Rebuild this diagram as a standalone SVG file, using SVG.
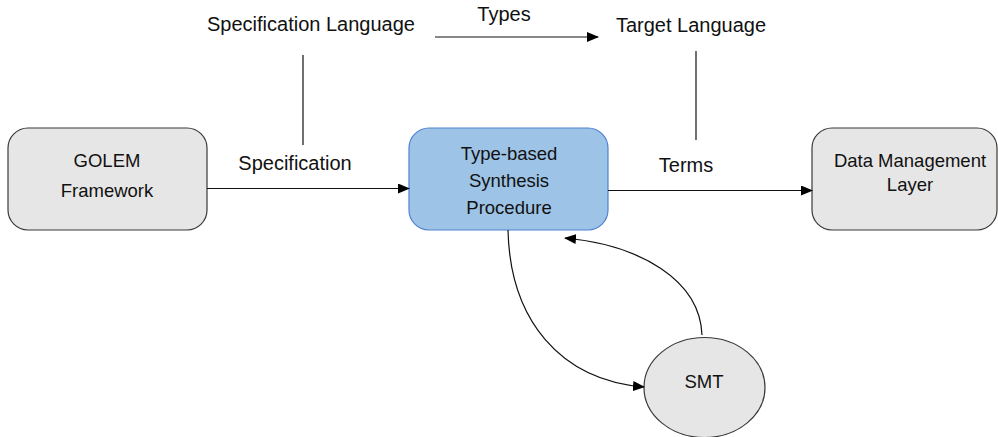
<svg xmlns="http://www.w3.org/2000/svg" width="998" height="437" viewBox="0 0 998 437">
<style>
.box{fill:#e7e6e6;stroke:#3b3838;stroke-width:1.2}
.blue{fill:#9dc3e6;stroke:#4f81d0;stroke-width:1.2}
.nt{font-family:"Liberation Sans",Arial,sans-serif;font-size:18.5px;fill:#111;text-anchor:middle}
.lb{font-family:"Liberation Sans",Arial,sans-serif;font-size:20px;fill:#111;text-anchor:middle}
.ln{fill:none;stroke:#111;stroke-width:1.2}
</style>
<defs>
<marker id="ah" markerWidth="12" markerHeight="10" refX="11" refY="5" orient="auto" markerUnits="userSpaceOnUse">
<path d="M0,0 L12,5 L0,10 Z" fill="#000"/>
</marker>
</defs>
<rect width="998" height="437" fill="#fff"/>
<g id="golem">
<rect class="box" x="8" y="128" width="199" height="102" rx="20"/>
<text class="nt" x="107" y="167">GOLEM</text>
<text class="nt" x="107" y="197">Framework</text>
</g>
<g id="synthesis">
<rect class="blue" x="409" y="128" width="199" height="102" rx="20"/>
<text class="nt" x="509" y="160">Type-based</text>
<text class="nt" x="509" y="187">Synthesis</text>
<text class="nt" x="509" y="214">Procedure</text>
</g>
<g id="dml">
<rect class="box" x="812" y="128" width="185" height="102" rx="20"/>
<text class="nt" x="910" y="167">Data Management</text>
<text class="nt" x="910" y="191">Layer</text>
</g>
<g id="smt">
<ellipse class="box" cx="704.5" cy="387.5" rx="60.5" ry="50"/>
<text class="nt" x="704" y="388">SMT</text>
</g>
<g id="speclang">
<text class="lb" x="311" y="31">Specification Language</text>
</g>
<g id="targetlang">
<text class="lb" x="691" y="32">Target Language</text>
</g>
<g id="connectors">
<line class="ln" x1="207" y1="188.5" x2="409" y2="188.5" marker-end="url(#ah)"/>
<line class="ln" x1="608" y1="190.5" x2="812" y2="190.5" marker-end="url(#ah)"/>
<line class="ln" x1="435" y1="37" x2="598" y2="37" marker-end="url(#ah)"/>
<line class="ln" x1="303" y1="55" x2="303" y2="145"/>
<line class="ln" x1="696" y1="51" x2="696" y2="140"/>
<path class="ln" d="M508,230 C510,320 560,380 644,387" marker-end="url(#ah)"/>
<path class="ln" d="M702,335 C700,280 640,245 565,238" marker-end="url(#ah)"/>
<text class="lb" x="295" y="170">Specification</text>
<text class="lb" x="686" y="172">Terms</text>
<text class="lb" x="504" y="21">Types</text>
</g>
</svg>
